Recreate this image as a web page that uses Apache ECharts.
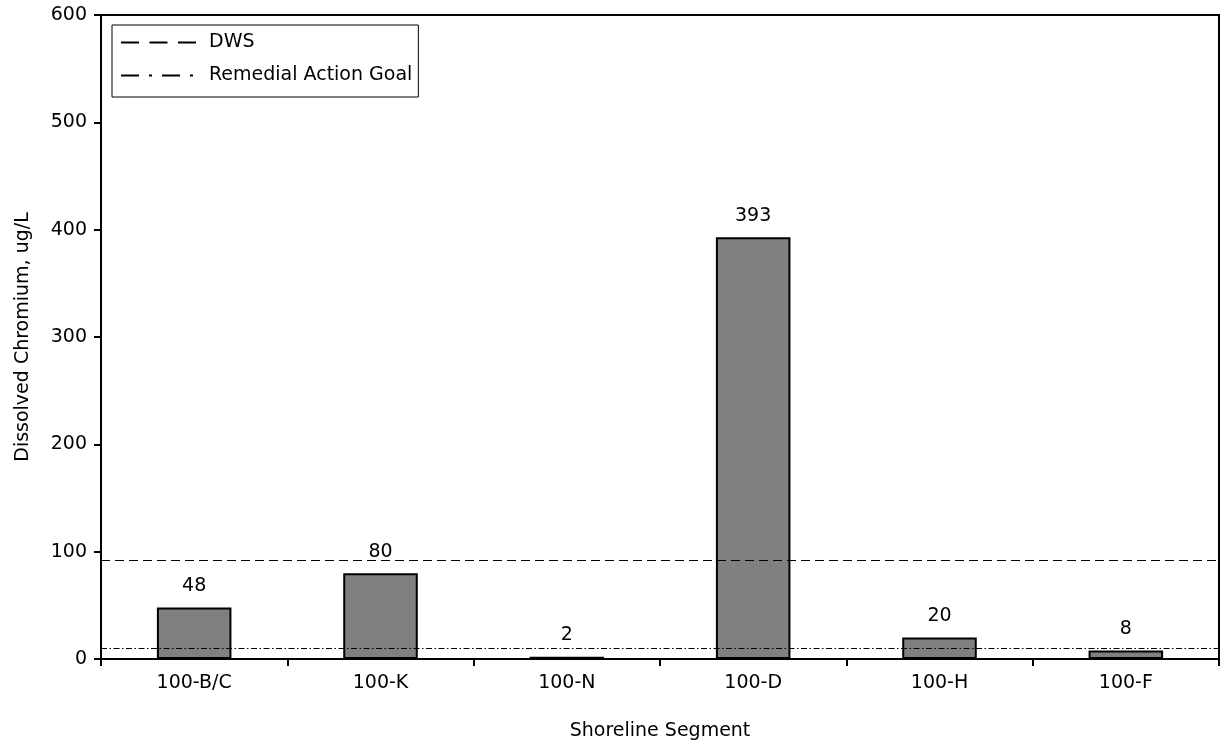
<!DOCTYPE html>
<html><head><meta charset="utf-8">
<script src="https://cdn.jsdelivr.net/npm/echarts@6/dist/echarts.min.js"></script>
<style>html,body{margin:0;padding:0;background:#fff}#c{width:1225px;height:746px}</style>
</head><body><div id="c"></div>
<script>
const categories = ['100-B/C','100-K','100-N','100-D','100-H','100-F'];
const chromium = [48, 80, 2, 393, 20, 8];
const dwsValue = 92;
const ragValue = 10;
const yTicks = [0,100,200,300,400,500,600];

const font = '"DejaVu Sans", "Liberation Sans", Arial, sans-serif';
const fs = 19;
const chart = echarts.init(document.getElementById('c'));
chart.setOption({
  animation: false,
  backgroundColor: '#fff',
  grid: {left: 101, right: 6, top: 15, bottom: 87, show: true, borderColor: '#000', borderWidth: 2},
  legend: {
    orient: 'vertical', left: 112, top: 25,
    data: ['DWS', 'Remedial Action Goal'],
    itemWidth: 75, itemHeight: 14, itemGap: 14,
    padding: [8, 6, 12, 8],
    borderColor: '#000', borderWidth: 1, backgroundColor: '#fff',
    itemStyle: {opacity: 0},
    textStyle: {fontFamily: font, fontSize: fs, color: '#000', lineHeight: 19, padding: [0, 0, 0, 8]}
  },
  xAxis: {
    type: 'category', data: categories,
    name: 'Shoreline Segment', nameLocation: 'middle', nameGap: 63,
    nameTextStyle: {fontFamily: font, fontSize: fs, color: '#000'},
    axisLine: {lineStyle: {color: '#000', width: 2}},
    axisTick: {show: true, length: 7, lineStyle: {color: '#000', width: 2}},
    axisLabel: {fontFamily: font, fontSize: fs, color: '#000', margin: 15},
    splitLine: {show: false}
  },
  yAxis: {
    type: 'value', min: yTicks[0], max: yTicks[yTicks.length-1], interval: 100,
    name: 'Dissolved Chromium, ug/L', nameLocation: 'middle', nameGap: 68,
    nameTextStyle: {fontFamily: font, fontSize: fs, color: '#000'},
    axisLine: {show: true, lineStyle: {color: '#000', width: 2}},
    axisTick: {show: true, length: 7, lineStyle: {color: '#000', width: 2}},
    axisLabel: {fontFamily: font, fontSize: fs, color: '#000', margin: 14},
    splitLine: {show: false}
  },
  series: [
    {
      type: 'bar', data: chromium, barWidth: '40%',
      itemStyle: {color: '#808080', borderColor: '#000', borderWidth: 2},
      label: {show: true, position: 'top', distance: 12, fontFamily: font, fontSize: fs, color: '#000'},
      z: 3
    },
    {
      name: 'DWS', type: 'line', data: [], symbol: 'none', showSymbol: false,
      itemStyle: {color: '#000', opacity: 0},
      lineStyle: {color: '#000', width: 2, type: [18, 10.5]},
      markLine: {
        silent: true, symbol: 'none', label: {show: false},
        lineStyle: {color: '#000', width: 1, type: [9, 5]},
        data: [{yAxis: dwsValue}]
      }
    },
    {
      name: 'Remedial Action Goal', type: 'line', data: [], symbol: 'none', showSymbol: false,
      itemStyle: {color: '#000', opacity: 0},
      lineStyle: {color: '#000', width: 2, type: [18, 10, 3, 10]},
      markLine: {
        silent: true, symbol: 'none', label: {show: false},
        lineStyle: {color: '#000', width: 1, type: [6, 2.5, 1.5, 2.5]},
        data: [{yAxis: ragValue}]
      },
      z: 4
    }
  ]
});
</script></body></html>
